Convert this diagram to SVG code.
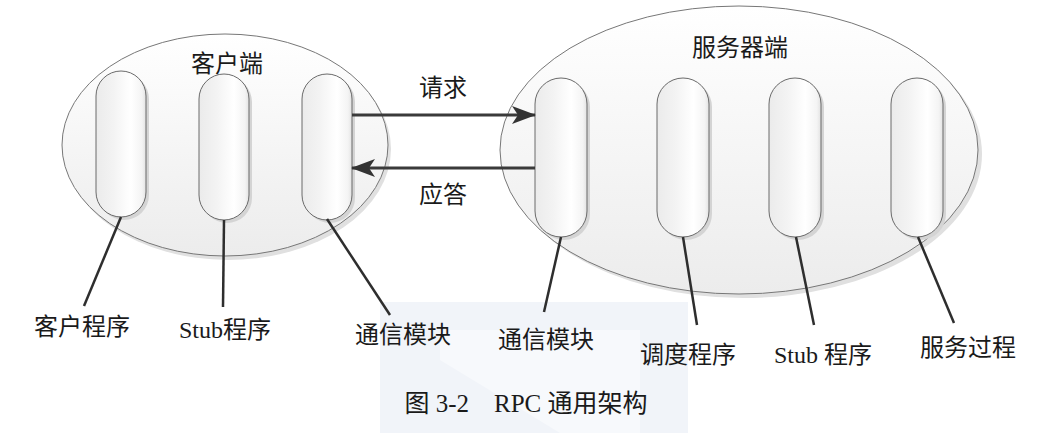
<svg xmlns="http://www.w3.org/2000/svg" width="1039" height="433" viewBox="0 0 1039 433">
<style>
.lbl{font-family:"Liberation Serif","Noto Sans CJK SC",serif;font-size:24px;fill:#1a1a1a;text-anchor:middle}
.ttl{font-family:"Liberation Serif","Noto Sans CJK SC",serif;font-size:24px;fill:#1a1a1a;text-anchor:middle}
.cap{fill:url(#capg);stroke:#6a6a6a;stroke-width:1}
.capsh{fill:#d4d4d4}
.lead{stroke:#2e2e2e;stroke-width:2.5;fill:none}
.arr{stroke:#3a3a3a;stroke-width:3;fill:none}
</style>
<defs>
<linearGradient id="ellg" x1="0" y1="0" x2="0" y2="1">
<stop offset="0" stop-color="#ffffff"/>
<stop offset="1" stop-color="#ececec"/>
</linearGradient>
<linearGradient id="capg" x1="0" y1="0" x2="1" y2="0">
<stop offset="0" stop-color="#ebebeb"/>
<stop offset="0.35" stop-color="#f3f3f3"/>
<stop offset="0.7" stop-color="#ffffff"/>
<stop offset="0.92" stop-color="#f4f4f4"/>
<stop offset="1" stop-color="#e2e2e2"/>
</linearGradient>
<marker id="ah" viewBox="0 0 24 18" refX="23" refY="9" markerWidth="24" markerHeight="18" markerUnits="userSpaceOnUse" orient="auto">
<path d="M0,0 L24,9 L0,18 L6,9 Z" fill="#333"/>
</marker>
</defs>

<g id="watermark">
<rect x="380" y="302" width="308" height="131" fill="#f1f4f9"/>
<polygon points="440,330 640,330 640,433 560,433 440,360" fill="#f7f9fc"/>
</g>

<g id="client">
<ellipse cx="228" cy="149" rx="163" ry="111" fill="#e0e0e0"/>
<ellipse cx="225" cy="145" rx="163" ry="111" fill="url(#ellg)" stroke="#777" stroke-width="1"/>
<text class="ttl" x="227" y="72">客户端</text>
</g>
<g id="server">
<ellipse cx="743" cy="154" rx="239" ry="144" fill="#e0e0e0"/>
<ellipse cx="739" cy="150" rx="239" ry="144" fill="url(#ellg)" stroke="#777" stroke-width="1"/>
<text class="ttl" x="740" y="56">服务器端</text>
</g>

<g id="c1"><rect class="capsh" x="99" y="74" width="50" height="146" rx="25"/><rect class="cap" x="96" y="71" width="50" height="146" rx="25"/></g>
<g id="c2"><rect class="capsh" x="202" y="77" width="50" height="146" rx="25"/><rect class="cap" x="199" y="74" width="50" height="146" rx="25"/></g>
<g id="c3"><rect class="capsh" x="305" y="77" width="50" height="146" rx="25"/><rect class="cap" x="302" y="74" width="50" height="146" rx="25"/></g>
<g id="s1"><rect class="capsh" x="538" y="81" width="52" height="159" rx="26"/><rect class="cap" x="535" y="78" width="52" height="159" rx="26"/></g>
<g id="s2"><rect class="capsh" x="660" y="81" width="52" height="159" rx="26"/><rect class="cap" x="657" y="78" width="52" height="159" rx="26"/></g>
<g id="s3"><rect class="capsh" x="772" y="81" width="52" height="159" rx="26"/><rect class="cap" x="769" y="78" width="52" height="159" rx="26"/></g>
<g id="s4"><rect class="capsh" x="894" y="81" width="52" height="159" rx="26"/><rect class="cap" x="891" y="78" width="52" height="159" rx="26"/></g>

<g id="connectors">
<line class="arr" x1="352" y1="115" x2="535" y2="115" marker-end="url(#ah)"/>
<line class="arr" x1="535" y1="168" x2="352" y2="168" marker-end="url(#ah)"/>
<line class="lead" x1="121" y1="217" x2="84" y2="306"/>
<line class="lead" x1="224" y1="220" x2="223" y2="307"/>
<line class="lead" x1="327" y1="219" x2="390" y2="315"/>
<line class="lead" x1="561" y1="237" x2="544" y2="312"/>
<line class="lead" x1="683" y1="237" x2="697" y2="325"/>
<line class="lead" x1="796" y1="237" x2="814" y2="325"/>
<line class="lead" x1="918" y1="237" x2="954" y2="323"/>
</g>

<g id="labels">
<text class="lbl" x="443" y="96">请求</text>
<text class="lbl" x="443" y="203">应答</text>
<text class="lbl" x="82" y="335">客户程序</text>
<text class="lbl" x="225" y="338">Stub程序</text>
<text class="lbl" x="403" y="343">通信模块</text>
<text class="lbl" x="546" y="348">通信模块</text>
<text class="lbl" x="688" y="363">调度程序</text>
<text class="lbl" x="823" y="363">Stub 程序</text>
<text class="lbl" x="968" y="356">服务过程</text>
<text class="lbl" x="526" y="412" style="font-size:25px" xml:space="preserve">图 3-2    RPC 通用架构</text>
</g>
</svg>
